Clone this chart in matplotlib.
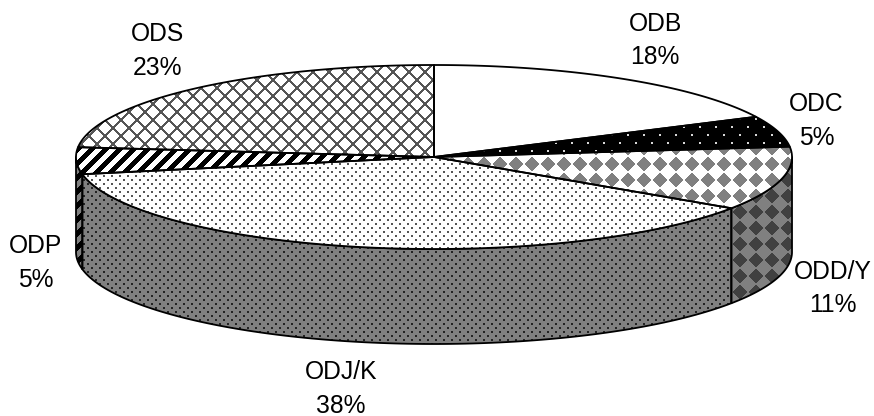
import numpy as np
import matplotlib
matplotlib.use("Agg")
import matplotlib.pyplot as plt
from matplotlib.patches import Polygon

categories = ["ODB", "ODC", "ODD/Y", "ODJ/K", "ODP", "ODS"]
values = [17.8, 5.4, 11.2, 37.6, 4.7, 23.3]
label_pos = [(655, 40.5), (816.5, 121), (833, 288.5), (341, 389), (36, 263), (157, 51)]

W, H = 874, 416
CX, CY, RX, RY, DEPTH = 434, 157, 358, 92, 95

yy, xx = np.mgrid[0:H, 0:W]
yy = yy + 0.5
xx = xx + 0.5


def dots(bg, fg, period=8, r=1.5, px=0, py=0):
    a = (xx - px) % period
    b = (yy - py) % period
    h = period / 2
    d1 = np.hypot(np.minimum(a, period - a), np.minimum(b, period - b))
    d2 = np.hypot(a - h, b - h)
    return np.where(np.minimum(d1, d2) < r, fg, bg).astype(float)


def sparse(bg, fg):
    return dots(bg, fg, period=16, r=1.3, px=12, py=15)


def diamonds(bg, fg):
    a = (xx - 4) % 16
    b = (yy - 4) % 16
    d = np.minimum(a, 16 - a) + np.minimum(b, 16 - b)
    return np.where(d < 7.2, fg, bg).astype(float)


def stripes(bg, fg):
    p = (xx + yy) % 14
    return np.where(p < 7, fg, bg).astype(float)


def cross(bg, fg):
    p = np.minimum((xx + yy) % 16, (xx - yy) % 16)
    return np.where(p < 2.2, fg, bg).astype(float)


top_fill = [
    np.full((H, W), 255.0),
    sparse(0, 215),
    diamonds(255, 128),
    dots(255, 85),
    stripes(255, 0),
    cross(255, 85),
]
side_fill = [
    np.full((H, W), 128.0),
    sparse(0, 110),
    diamonds(128, 64),
    dots(128, 35),
    stripes(128, 0),
    cross(128, 45),
]

fig = plt.figure(figsize=(W / 100, H / 100), dpi=100)
ax = fig.add_axes([0, 0, 1, 1])
ax.set_axis_off()
EXT = (0, W, H, 0)


def pt(deg, dz=0):
    t = np.radians(deg)
    return np.column_stack([CX + RX * np.sin(t), CY - RY * np.cos(t) + dz])


def fill(poly_xy, img, z):
    poly = Polygon(poly_xy, closed=True, fc="none", ec="black", lw=1.3,
                   joinstyle="round", zorder=z + 0.5)
    ax.add_patch(poly)
    im = ax.imshow(img, extent=EXT, cmap="gray", vmin=0, vmax=255,
                   interpolation="nearest", aspect="auto", zorder=z)
    im.set_clip_path(poly)


edges = np.cumsum([0] + values) * 3.6
for i, v in enumerate(values):
    a0, a1 = edges[i], edges[i + 1]
    s0, s1 = max(a0, 90), min(a1, 270)
    if s1 > s0:
        arc = np.linspace(s0, s1, 120)
        fill(np.vstack([pt(arc), pt(arc[::-1], DEPTH)]), side_fill[i], 2)
for i, v in enumerate(values):
    a0, a1 = edges[i], edges[i + 1]
    arc = np.linspace(a0, a1, 160)
    fill(np.vstack([[[CX, CY]], pt(arc)]), top_fill[i], 3)

for cat, val, (x, y) in zip(categories, values, label_pos):
    ax.text(x, y, f"{cat}\n{round(val)}%", ha="center", va="center", color="black",
            family="Liberation Sans", fontsize=17.7, linespacing=1.49, zorder=6)

ax.set_xlim(0, W)
ax.set_ylim(H, 0)
fig.savefig("out.png", dpi=100, facecolor="white")
